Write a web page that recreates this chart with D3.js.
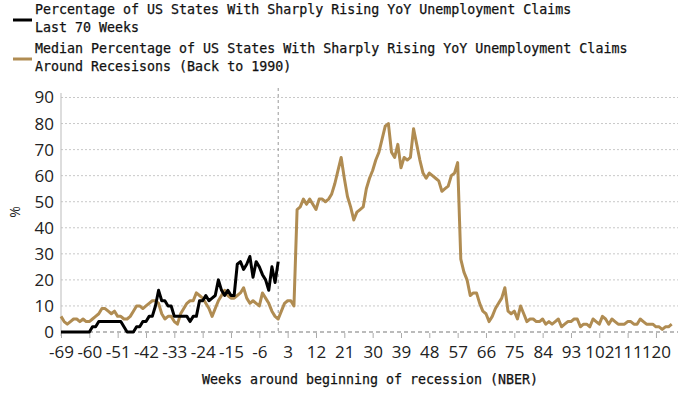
<!DOCTYPE html>
<html lang="en">
<head>
<meta http-equiv="content-type" content="text/html; charset=UTF-8">
    <script src="https://d3js.org/d3.v7.min.js"></script>
    <style>
        body { margin: 0; background: #fff; }
        #plot { position: absolute; width: 700px; height: 394px; }
    </style>
</head>
<body>
    <div id="plot"></div>
    <script>
        // weeks around the start of a recession
        var firstWeek = -69;
        var tickWeeks = [-69, -60, -51, -42, -33, -24, -15, -6, 3, 12, 21, 30, 39, 48, 57, 66, 75, 84, 93, 102, 111, 120];
        var yTicks = [0, 10, 20, 30, 40, 50, 60, 70, 80, 90];

        var legendLabels = [
            ["Percentage of US States With Sharply Rising YoY Unemployment Claims", "Last 70 Weeks"],
            ["Median Percentage of US States With Sharply Rising YoY Unemployment Claims", "Around Recesisons (Back to 1990)"]
        ];

        // last 70 weeks, weeks -69 .. 0
        var last70 = [
            0, 0, 0, 0, 0, 0, 0, 0, 0, 0,
            2, 2, 4, 4, 4, 4, 4, 4, 4, 4,
            2, 0, 0, 0, 2, 2, 4, 4, 6, 6,
            10, 16, 12, 12, 10, 10, 6, 6, 6, 6,
            6, 4, 6, 6, 12, 12, 14, 12, 13, 14,
            20, 16, 14, 16, 14, 14, 26, 27, 24, 26,
            29, 21, 27, 25, 22, 20, 16, 25, 19, 27
        ];

        // median around recessions, weeks -69 .. 125
        var medianRecession = [
            6, 4, 3, 4, 5, 5, 4, 5, 4, 4,
            5, 6, 7, 9, 9, 8, 7, 8, 6, 6,
            5, 5, 6, 8, 10, 10, 9, 10, 11, 12,
            12, 11, 7, 5, 6, 6, 4, 3, 7, 9,
            11, 12, 12, 15, 14, 13, 11, 9, 6, 9,
            12, 14, 16, 14, 13, 13, 14, 15, 17, 13,
            11, 12, 11, 10, 15, 13, 11, 8, 6, 5,
            8, 11, 12, 12, 10, 47, 48, 51, 49, 51,
            49, 47, 51, 51, 50, 51, 53, 57, 62, 67,
            59, 52, 48, 43, 46, 47, 48, 55, 59, 62,
            66, 69, 74, 79, 80, 69, 67, 72, 63, 67,
            66, 67, 78, 72, 66, 61, 59, 61, 60, 59,
            58, 54, 55, 56, 60, 61, 65, 28, 23, 20,
            14, 15, 15, 11, 8, 7, 4, 6, 9, 11,
            13, 17, 8, 7, 8, 5, 10, 7, 4, 5,
            5, 4, 4, 5, 3, 4, 3, 4, 5, 2,
            3, 4, 4, 5, 5, 2, 3, 3, 2, 5,
            4, 3, 6, 5, 3, 5, 4, 3, 3, 3,
            4, 4, 3, 3, 5, 4, 3, 3, 3, 2,
            2, 1, 2, 2, 3
        ];

        var gold = "#b08c52";
        var monoFont = "'DejaVu Sans Mono', monospace";
        var tickFont = "'Open Sans', sans-serif";

        function drawChart() {
            var width = 700, height = 394;
            var svg = d3.select("#plot").append("svg")
                .attr("width", width)
                .attr("height", height);

            var x = d3.scaleLinear().domain([-69, 127]).range([61, 678]);
            var y = d3.scaleLinear().domain([0, 90]).range([332, 97.5]);

            // legend
            legendLabels.forEach(function(lines, i) {
                var top = i === 0 ? 14 : 53;
                svg.append("line")
                    .attr("x1", 13).attr("x2", 32)
                    .attr("y1", top + 6).attr("y2", top + 6)
                    .attr("stroke", i === 0 ? "#000" : gold)
                    .attr("stroke-width", 3);
                lines.forEach(function(t, j) {
                    svg.append("text")
                        .attr("x", 35)
                        .attr("y", top + j * 18)
                        .attr("font-family", monoFont)
                        .attr("font-size", 13.3)
                        .attr("fill", "#111")
                        .attr("stroke", "#111")
                        .attr("stroke-width", 0.25)
                        .text(t);
                });
            });

            // horizontal grid
            svg.append("g").selectAll("line")
                .data(yTicks.filter(d => d > 0))
                .join("line")
                .attr("x1", x(-69)).attr("x2", x(127))
                .attr("y1", d => y(d)).attr("y2", d => y(d))
                .attr("stroke", "#c8c8c8")
                .attr("stroke-width", 1)
                .attr("stroke-dasharray", "2,2");

            // zero baseline
            svg.append("line")
                .attr("x1", x(-69)).attr("x2", x(127))
                .attr("y1", y(0)).attr("y2", y(0))
                .attr("stroke", "#bbbbbb")
                .attr("stroke-width", 2)
                .attr("stroke-dasharray", "4,3");

            // y axis
            var yAxis = d3.axisLeft(y).tickValues(yTicks).tickSize(0).tickPadding(7);
            var gy = svg.append("g")
                .attr("transform", "translate(" + x(-69) + ",0)")
                .call(yAxis);
            gy.select(".domain").remove();
            gy.selectAll("text")
                .attr("font-family", tickFont)
                .attr("font-size", 17)
                .attr("fill", "#222");
            svg.append("line")
                .attr("x1", x(-69)).attr("x2", x(-69))
                .attr("y1", 93).attr("y2", y(0) + 4)
                .attr("stroke", "#bbbbbb");

            svg.append("text")
                .attr("transform", "translate(20,212) rotate(-90)")
                .attr("text-anchor", "middle")
                .attr("font-family", tickFont)
                .attr("font-size", 14)
                .attr("fill", "#222")
                .text("%");

            // x axis
            var xAxis = d3.axisBottom(x).tickValues(tickWeeks).tickSize(5).tickPadding(8).tickFormat(d3.format("d"));
            var gx = svg.append("g")
                .attr("transform", "translate(0," + (y(0) + 1) + ")")
                .call(xAxis);
            gx.select(".domain").remove();
            gx.selectAll("line").attr("stroke", "#aaaaaa");
            gx.selectAll("text")
                .attr("font-family", tickFont)
                .attr("font-size", 17)
                .attr("fill", "#222")
                .text(d => d < 0 ? "-" + Math.abs(d) : d);

            svg.append("text")
                .attr("x", 370)
                .attr("y", 384)
                .attr("text-anchor", "middle")
                .attr("font-family", monoFont)
                .attr("font-size", 13.3)
                .attr("fill", "#111")
                .attr("stroke", "#111")
                .attr("stroke-width", 0.25)
                .text("Weeks around beginning of recession (NBER)");

            // recession start marker
            svg.append("line")
                .attr("x1", x(0)).attr("x2", x(0))
                .attr("y1", 88).attr("y2", y(0))
                .attr("stroke", "#999999")
                .attr("stroke-width", 1)
                .attr("stroke-dasharray", "3,3");

            var line = d3.line()
                .x((d, i) => x(firstWeek + i))
                .y(d => y(d))
                .curve(d3.curveLinear);

            svg.append("path")
                .datum(medianRecession)
                .attr("fill", "none")
                .attr("stroke", gold)
                .attr("stroke-width", 3)
                .attr("stroke-linejoin", "round")
                .attr("d", line);

            svg.append("path")
                .datum(last70)
                .attr("fill", "none")
                .attr("stroke", "#000")
                .attr("stroke-width", 3)
                .attr("stroke-linejoin", "round")
                .attr("d", line);
        }

        window.onload = drawChart;
    </script>
</body>
</html>
